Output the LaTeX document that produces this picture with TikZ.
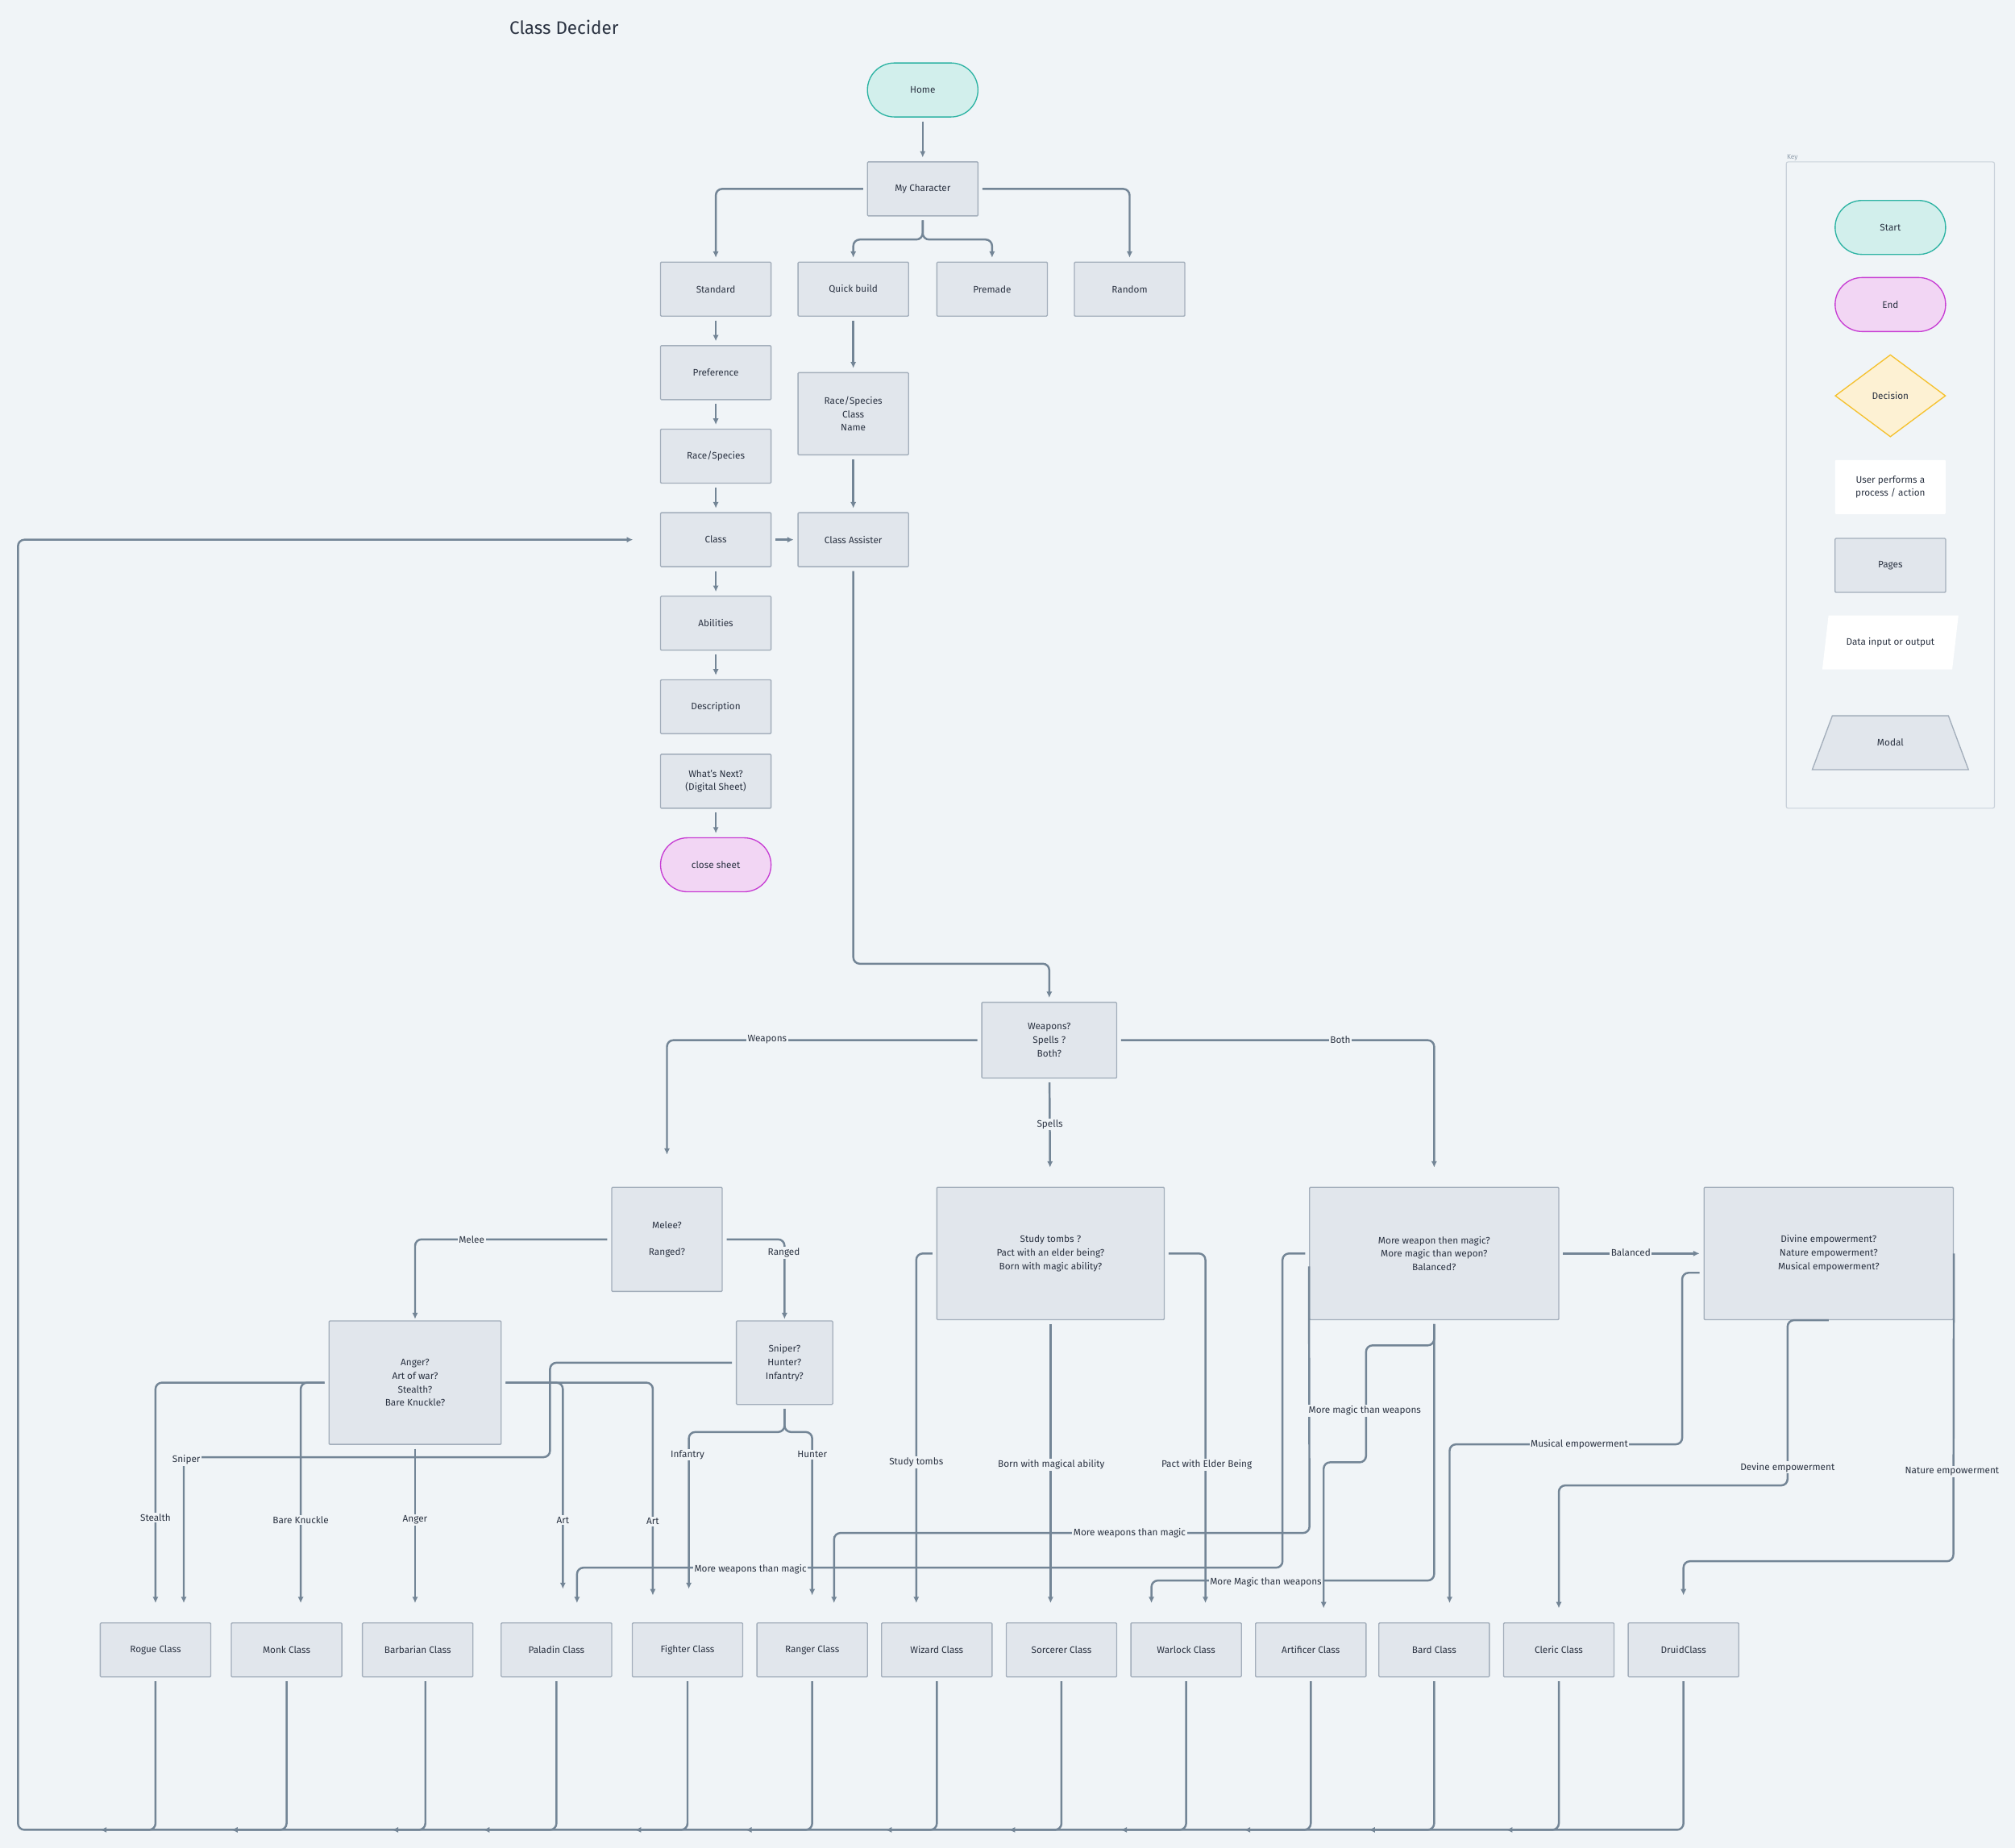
\documentclass[tikz,border=0pt]{standalone}
\usepackage{fontspec}
\setmainfont{Fira Sans}
\usetikzlibrary{arrows.meta, shapes.geometric}

\definecolor{bg}{RGB}{240,244,247}
\definecolor{boxfill}{RGB}{225,230,236}
\definecolor{boxline}{RGB}{163,174,187}
\definecolor{lineclr}{RGB}{115,133,150}
\definecolor{txt}{RGB}{43,51,66}
\definecolor{startfill}{RGB}{210,239,236}
\definecolor{startline}{RGB}{45,179,163}
\definecolor{endfill}{RGB}{242,214,244}
\definecolor{endline}{RGB}{199,61,211}
\definecolor{decfill}{RGB}{253,241,211}
\definecolor{decline}{RGB}{245,193,46}
\definecolor{keyline}{RGB}{201,209,218}

\tikzset{
  page/.style={draw=boxline, fill=boxfill, line width=1.2pt, rounded corners=1pt,
    minimum width=4.3cm, minimum height=2.1cm, align=center, inner sep=2pt, text=txt},
  startpill/.style={page, draw=startline, fill=startfill, rounded corners=1.05cm},
  endpill/.style={page, draw=endline, fill=endfill, rounded corners=1.05cm},
  con/.style={draw=lineclr, line width=2.2pt, ->, rounded corners=0.25cm,
    shorten <=0.15cm, shorten >=0.15cm},
  lbl/.style={fill=bg, text=txt, inner sep=1.5pt},
}

\begin{document}
\begin{tikzpicture}[x=0.05cm, y=-0.05cm, >={Latex[length=7pt,width=6.5pt]},
  font=\fontsize{10.5}{15}\selectfont]

\fill[bg] (0,0) rectangle (1568,1438);
\useasboundingbox (0,0) rectangle (1568,1438);

%\draw[step=5cm, gray!40] (0,0) grid (1568,1438);

\node[anchor=west, text=txt, font=\fontsize{20}{24}\selectfont] (title) at (394,21) {Class Decider};

% top part
\node[startpill] (home) at (718,70) {Home};
\node[page] (mych) at (718,147) {My Character};

\node[page] (std) at (557,225) {Standard};
\node[page] (quick) at (664,225) {Quick build};
\node[page] (prem) at (772,225) {Premade};
\node[page] (rnd) at (879,225) {Random};

\node[page] (pref) at (557,290) {Preference};
\node[page] (race) at (557,355) {Race/Species};
\node[page] (cls) at (557,420) {Class};
\node[page] (abil) at (557,485) {Abilities};
\node[page] (desc) at (557,550) {Description};
\node[page] (next) at (557,608) {What's Next?\\(Digital Sheet)};
\node[endpill] (close) at (557,673) {close sheet};

\node[page, minimum height=3.2cm] (qinfo) at (664,322) {Race/Species\\Class\\Name};
\node[page] (assist) at (664,420) {Class Assister};

\draw[con] (home) -- (mych);
\draw[con] (mych.west) -| (std);
\draw[con] (mych.east) -| (rnd);
\draw[con] (mych.south) -- ++(0,18) -| (quick);
\draw[con] (mych.south) -- ++(0,18) -| (prem);
\draw[con] (std) -- (pref);
\draw[con] (pref) -- (race);
\draw[con] (race) -- (cls);
\draw[con] (cls) -- (abil);
\draw[con] (abil) -- (desc);
\draw[con] (next) -- (close);
\draw[con] (quick) -- (qinfo);
\draw[con] (qinfo) -- (assist);
\draw[con] (cls) -- (assist);

% questions
\node[page, minimum width=5.25cm, minimum height=2.95cm] (weap) at (816.5,809.5) {Weapons?\\Spells ?\\Both?};
\node[page, minimum height=4.05cm] (melee) at (519,964.5) {Melee?\\~\\Ranged?};
\node[page, minimum width=8.85cm, minimum height=5.15cm] (spell) at (817.5,975.5)
  {Study tombs ?\\Pact with an elder being?\\Born with magic ability?};
\node[page, minimum width=9.7cm, minimum height=5.15cm] (mixed) at (1116,975.5)
  {More weapon then magic?\\More magic than wepon?\\Balanced?};
\node[page, minimum width=9.7cm, minimum height=5.15cm] (div) at (1423,975.5)
  {Divine empowerment?\\Nature empowerment?\\Musical empowerment?};
\node[page, minimum width=6.7cm, minimum height=4.8cm] (anger) at (323,1076)
  {Anger?\\Art of war?\\Stealth?\\Bare Knuckle?};
\node[page, minimum width=3.75cm, minimum height=3.25cm] (sniper) at (610.5,1060.5)
  {Sniper?\\Hunter?\\Infantry?};

% classes
\foreach \c/\x/\t in {rogue/121/Rogue Class, monk/223/Monk Class, barb/325/Barbarian Class,
  pala/433/Paladin Class, fight/535/Fighter Class, rang/632/Ranger Class, wiz/729/Wizard Class,
  sorc/826/Sorcerer Class, warl/923/Warlock Class, arti/1020/Artificer Class,
  bard/1116/Bard Class, cler/1213/Cleric Class, druid/1310/DruidClass}
  \node[page] (\c) at (\x,1284) {\t};

\draw[con] (assist.south) -- (664,750) -| (weap.north);
\draw[con, shorten >=1.25cm] (weap.west) -| (melee.north);
\draw[con, shorten >=0.75cm] (weap.east) -| (mixed.north);
\draw[con, shorten >=0.75cm] (weap) -- (spell);

\draw[con, shorten >=0.05cm] (melee.west) -| (anger.north);
\draw[con, shorten >=0.05cm] (melee.east) -| (sniper.north);

% weapons side
\draw[con, shorten >=0.75cm] (anger.west) -| (rogue.north);
\draw[con, shorten >=0.75cm] (anger.west) -| ([xshift=0.55cm]monk.north);
\draw[con, shorten >=0.75cm] (anger.south) -- (anger.south |- barb.north);
\draw[con, shorten >=1.3cm] (anger.east) -| ([xshift=0.25cm]pala.north);
\draw[con, shorten >=1.05cm] (anger.east) -| ([xshift=-1.35cm]fight.north);

\draw[con, shorten >=0.75cm] (sniper.west) -| (428,1134) -| ([xshift=1.1cm]rogue.north);
\draw[con, shorten >=1.3cm] (sniper.south) -- ++(0,21) -| ([xshift=0.05cm]fight.north);
\draw[con, shorten >=1.05cm] (sniper.south) -- ++(0,21) -| (rang.north);

% spells side
\draw[con, shorten >=0.75cm] (spell.west) -| ([xshift=-0.8cm]wiz.north);
\draw[con, shorten >=0.75cm] (spell.south) -- (spell.south |- sorc.north);
\draw[con, shorten >=0.75cm] (spell.east) -| ([xshift=0.75cm]warl.north);

% both
\draw[con, shorten >=0.75cm] (mixed.west) -| (998,1220) -| ([xshift=0.8cm]pala.north);
\draw[con, shorten <=0pt, shorten >=0.75cm] ([yshift=-0.5cm]mixed.west) -- (1019,1193) -| ([xshift=0.85cm]rang.north);
\draw[con, shorten >=0.55cm] (mixed.south) -- (1116,1047) -| (1063,1138) -| ([xshift=0.5cm]arti.north);
\draw[con, shorten >=0.75cm] (mixed.south) -- (1116,1230) -| ([xshift=-1.35cm]warl.north);
\draw[con] (mixed) -- (div);

\draw[con, shorten >=0.75cm] ([yshift=-0.75cm]div.west) -| (1309,1124) -| ([xshift=0.6cm]bard.north);
\draw[con, shorten <=0pt, shorten >=0.55cm] (div.south) -| (1391,1156) -| (cler.north);
\draw[con, shorten <=0pt, shorten >=1.05cm] (div.east) -- (1520,1215) -| (druid.north);

% back to class
\draw[con, shorten >=1.05cm] (druid.south) |- (14,1424) |- (cls.west);
\foreach \c/\e in {rogue/78, monk/180, pala/376, fight/494, rang/580, wiz/689,
  sorc/785, warl/872, arti/968, bard/1065, cler/1172}{
  \coordinate (e\c) at (\e,1424);
  \draw[con, shorten >=0pt] (\c.south) |- (e\c);
}
\coordinate (ebarb) at (305,1424);
\draw[con, shorten >=0pt] ([xshift=0.3cm]barb.south) |- (ebarb);

% labels
\node[lbl] (lweap) at (597,809) {Weapons};
\node[lbl] (lboth) at (1043,809) {Both};
\node[lbl] (lspell) at (817,875) {Spells};
\node[lbl] (lmelee) at (367,965) {Melee};
\node[lbl] (lrange) at (610,975) {Ranged};
\node[lbl] (lstealth) at (121,1181) {Stealth};
\node[lbl] (lsnip) at (145,1136) {Sniper};
\node[lbl] (lbare) at (234,1183) {Bare Knuckle};
\node[lbl] (langer) at (323,1183) {Anger};
\node[lbl] (lart) at (438,1183) {Art};
\node[lbl] (lartb) at (508,1184) {Art};
\node[lbl] (linf) at (535,1132) {Infantry};
\node[lbl] (lhunt) at (632,1132) {Hunter};
\node[lbl] (lstudy) at (713,1138) {Study tombs};
\node[lbl] (lborn) at (818,1140) {Born with magical ability};
\node[lbl] (lpact) at (939,1140) {Pact with Elder Being};
\node[lbl] (lmwa) at (879,1193) {More weapons than magic};
\node[lbl] (lmwb) at (584,1221) {More weapons than magic};
\node[lbl] (lmma) at (1062,1098) {More magic than weapons};
\node[lbl] (lmmb) at (985,1231) {More Magic than weapons};
\node[lbl] (lbal) at (1269,975) {Balanced};
\node[lbl] (lmus) at (1229,1124) {Musical empowerment};
\node[lbl] (ldev) at (1391,1142) {Devine empowerment};
\node[lbl] (lnat) at (1519,1145) {Nature empowerment};

% key
\node[draw=keyline, line width=1pt, rounded corners=2pt, minimum width=8.1cm, minimum height=25.15cm] (keybox) at (1471,377.5) {};
\node[anchor=south west, inner sep=1pt, text=lineclr!80, font=\fontsize{7.5}{8}\selectfont] (keylbl) at (keybox.north west) {Key};
\node[startpill] (kstart) at (1471,177) {Start};
\node[endpill] (kend) at (1471,237) {End};
\node[diamond, draw=decline, fill=decfill, line width=1.2pt, aspect=1.34, inner sep=0pt,
  minimum width=4.3cm, minimum height=3.2cm, text=txt] (kdec) at (1471,308) {Decision};
\node[page, draw=none, fill=white] (kuser) at (1471,379) {User performs a\\process / action};
\node[page] (kpage) at (1471,440) {Pages};
\node[trapezium, trapezium left angle=73, trapezium right angle=107, trapezium stretches=true,
  fill=white, minimum width=5.3cm, minimum height=2.1cm, text=txt] (kdata) at (1471,500) {Data input or output};
\node[trapezium, trapezium angle=67, trapezium stretches=true, draw=boxline, fill=boxfill,
  line width=1.2pt, minimum width=6.1cm, minimum height=2.1cm, text=txt] (kmodal) at (1471,578) {Modal};

\end{tikzpicture}
\end{document}
